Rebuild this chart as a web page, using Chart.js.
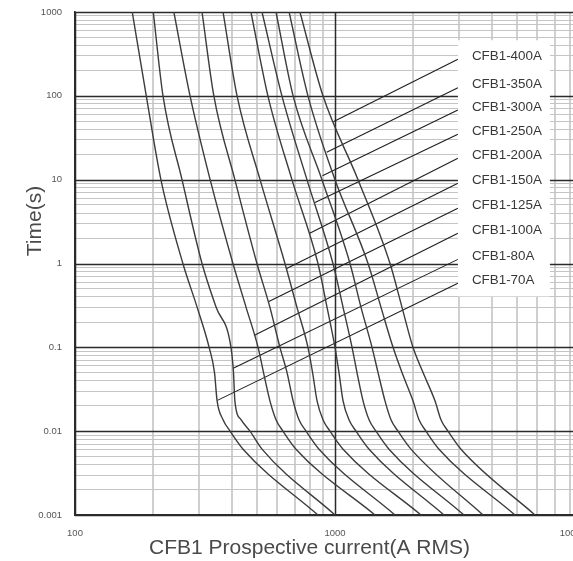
<!DOCTYPE html>
<html>
<head>
<meta charset="utf-8">
<title>CFB1 time-current curves</title>
<script src="https://cdn.jsdelivr.net/npm/chart.js@4.4.1/dist/chart.umd.min.js"></script>
<style>
  html, body { margin: 0; padding: 0; background: #fff; overflow: hidden; }
  #wrap { width: 586px; height: 561px; }
</style>
</head>
<body>
<div id="wrap"><canvas id="fuseChart" width="586" height="561"></canvas></div>
<script>
// Fuse ratings, left-most curve first
const ratings = ['CFB1-70A', 'CFB1-80A', 'CFB1-100A', 'CFB1-125A', 'CFB1-150A',
                 'CFB1-200A', 'CFB1-250A', 'CFB1-300A', 'CFB1-350A', 'CFB1-400A'];

const curveTimes = [1000, 100, 10, 1, 0.3, 0.1, 0.05, 0.023, 0.0137, 0.01, 0.0061, 0.001];

// Prospective current (A RMS) of each fuse at those times
const current70A  = [166, 188, 214, 260, 295, 328, 344, 352, 371, 395, 443, 860];
const current80A  = [200, 218, 258, 308, 349, 398, 407, 412, 435, 471, 524, 1000];
const current100A = [240, 277, 331, 405, 455, 506, 531, 562, 593, 631, 708, 1425];
const current125A = [308, 342, 412, 501, 562, 614, 654, 690, 727, 774, 868, 1701];
const current150A = [371, 420, 515, 642, 714, 787, 820, 853, 899, 957, 1074, 2142];
const current200A = [475, 552, 683, 860, 932, 1000, 1036, 1074, 1132, 1205, 1352, 2626];
const current250A = [524, 625, 780, 982, 1074, 1163, 1215, 1282, 1352, 1438, 1613, 3134];
const current300A = [593, 690, 891, 1142, 1259, 1388, 1464, 1557, 1642, 1747, 1960, 3710];
const current350A = [666, 787, 1000, 1340, 1503, 1672, 1810, 1995, 2104, 2239, 2512, 4924];
const current400A = [733, 899, 1226, 1628, 1810, 1995, 2181, 2424, 2556, 2720, 3052, 5876];

const curves = [current70A, current80A, current100A, current125A, current150A,
                current200A, current250A, current300A, current350A, current400A];

// Leader lines from each label to its curve (same order as ratings)
const leaderStartCurrent = 2970;
const leaderStartTime  = [0.58, 1.12, 2.29, 4.55, 9.05, 18.0, 34.8, 67.8, 125, 273];
const leaderEndCurrent = [353, 406, 488, 554, 652, 796, 838, 895, 929, 985];
const leaderEndTime    = [0.0233, 0.0563, 0.138, 0.35, 0.871, 2.28, 5.33, 11.1, 21.2, 49.1];

// Axes
const xMin = 100, xMax = 8230;
const yMin = 0.001, yMax = 1000;
const xLabelValues = [100, 1000, xMax];
const xTickLabels = ['100', '1000', '10000'];
const yLabelValues = [0.001, 0.01, 0.1, 1, 10, 100, 1000];
const yTickLabels = ['0.001', '0.01', '0.1', '1', '10', '100', '1000'];

const xTitle = 'CFB1 Prospective current(A RMS)';
const yTitle = 'Time(s)';

// grid lines at 1..9 x every decade
function decadeGrid(fromExp, toExp, last) {
    const vals = [];
    for (let e = fromExp; e < toExp; e++) {
        for (let m = 1; m <= 9; m++) {
            const v = Number((m * Math.pow(10, e)).toPrecision(2));
            if (v < last) vals.push(v);
        }
    }
    vals.push(last);
    return vals;
}
const xGridValues = decadeGrid(2, 4, xMax);
const yGridValues = decadeGrid(-3, 3, yMax);

const isDecade = v => Math.abs(Math.log10(v) - Math.round(Math.log10(v))) < 1e-9;

const tickFont = { family: "'Liberation Sans Narrow', 'Liberation Sans', sans-serif", size: 9.5 };
const textFont = "'Liberation Sans', Arial, sans-serif";
const majorColor = '#2b2b2b';
const clear = 'rgba(0,0,0,0)';

Chart.defaults.font.family = textFont;

const curveSets = curves.map((cur, i) => ({
    label: ratings[i],
    data: cur.map((c, j) => ({ x: c, y: curveTimes[j] })),
    borderColor: '#3c3c3c',
    borderWidth: 1.4,
    pointRadius: 0,
    cubicInterpolationMode: 'monotone',
    fill: false
}));

const leaderSets = ratings.map((r, i) => ({
    label: r + ' leader',
    data: [
        { x: leaderStartCurrent, y: leaderStartTime[i] },
        { x: leaderEndCurrent[i], y: leaderEndTime[i] }
    ],
    borderColor: '#1e1e1e',
    borderWidth: 1.1,
    pointRadius: 0,
    tension: 0,
    fill: false
}));

// decade lines stroked over the light minor grid so they stay solid
const decadeLines = {
    id: 'decadeLines',
    beforeDatasetsDraw(chart) {
        const { ctx, chartArea: a, scales: { x, y } } = chart;
        ctx.save();
        ctx.strokeStyle = majorColor;
        ctx.lineWidth = 1.4;
        yLabelValues.forEach(v => {
            const py = Math.round(y.getPixelForValue(v)) + 0.5;
            ctx.beginPath(); ctx.moveTo(a.left, py); ctx.lineTo(a.right, py); ctx.stroke();
        });
        ctx.lineWidth = 1.5;
        [100, 1000].forEach(v => {
            const px = Math.round(x.getPixelForValue(v)) + 0.5;
            ctx.beginPath(); ctx.moveTo(px, a.top); ctx.lineTo(px, a.bottom); ctx.stroke();
        });
        ctx.restore();
    }
};

// White label panel with the fuse names, and the two axis titles
const labelPanel = {
    id: 'labelPanel',
    afterDatasetsDraw(chart) {
        const { ctx, scales: { x, y } } = chart;
        const left = x.getPixelForValue(leaderStartCurrent);
        const ys = leaderStartTime.map(t => y.getPixelForValue(t) - 3);
        const top = Math.min(...ys) - 16;
        const bottom = Math.max(...ys) + 16;
        ctx.save();
        ctx.fillStyle = '#ffffff';
        ctx.fillRect(left, top, 92, bottom - top);
        ctx.fillStyle = '#383838';
        ctx.font = '13.4px ' + textFont;
        ctx.textBaseline = 'middle';
        ctx.textAlign = 'left';
        ratings.forEach((r, i) => ctx.fillText(r, left + 14, ys[i]));
        ctx.restore();
    },
    afterDraw(chart) {
        const { ctx } = chart;
        ctx.save();
        ctx.fillStyle = '#4a4a4a';
        ctx.font = '21px ' + textFont;
        ctx.textAlign = 'center';
        ctx.textBaseline = 'middle';
        ctx.fillText(xTitle, 309.5, 548);
        ctx.translate(35, 221);
        ctx.rotate(-Math.PI / 2);
        ctx.fillText(yTitle, 0, 0);
        ctx.restore();
    }
};

new Chart(document.getElementById('fuseChart'), {
    type: 'line',
    data: { datasets: [...curveSets, ...leaderSets] },
    options: {
        responsive: false,
        animation: false,
        events: [],
        layout: { padding: { top: 12, right: 13, bottom: 0, left: 0 } },
        plugins: {
            legend: { display: false },
            tooltip: { enabled: false }
        },
        scales: {
            x: {
                type: 'logarithmic',
                min: xMin,
                max: xMax,
                afterBuildTicks: s => { s.ticks = xGridValues.map(v => ({ value: v })); },
                afterFit: s => { s.height = 46; s.paddingLeft = 0; s.paddingRight = 0; },
                grid: {
                    drawTicks: false,
                    color: c => (c.tick.value === xMax || isDecade(c.tick.value)) ? clear : '#cfcfcf',
                    lineWidth: 2
                },
                border: { display: true, color: majorColor, width: 2 },
                ticks: {
                    autoSkip: false,
                    maxRotation: 0,
                    padding: 13,
                    color: '#555',
                    font: tickFont,
                    callback: v => {
                        const k = xLabelValues.indexOf(v);
                        return k >= 0 ? xTickLabels[k] : '';
                    }
                }
            },
            y: {
                type: 'logarithmic',
                min: yMin,
                max: yMax,
                afterBuildTicks: s => { s.ticks = yGridValues.map(v => ({ value: v })); },
                afterFit: s => { s.width = 75; s.paddingTop = 0; s.paddingBottom = 0; },
                grid: {
                    drawTicks: false,
                    color: c => isDecade(c.tick.value) ? clear : '#c4c4c4',
                    lineWidth: 1
                },
                border: { display: true, color: majorColor, width: 1.6 },
                ticks: {
                    autoSkip: false,
                    padding: 13,
                    color: '#555',
                    font: tickFont,
                    callback: v => {
                        const k = yLabelValues.indexOf(v);
                        return k >= 0 ? yTickLabels[k] : '';
                    }
                }
            }
        }
    },
    plugins: [decadeLines, labelPanel]
});
</script>
</body>
</html>
